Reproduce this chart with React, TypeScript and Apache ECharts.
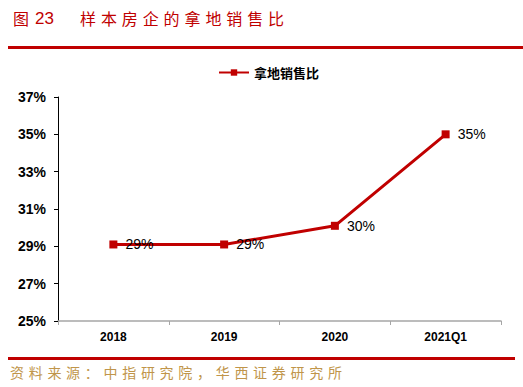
import React, { useEffect, useRef } from "react";
import * as echarts from "echarts";

const categories = ["2018", "2019", "2020", "2021Q1"];
const ratioValues = [29.1, 29.1, 30.1, 35.0];
const ratioLabels = ["29%", "29%", "30%", "35%"];
const yTicks = [25, 27, 29, 31, 33, 35, 37];
const seriesName = "拿地销售比";
const titleFig = "图";
const titleNum = "23";
const titleText = "样本房企的拿地销售比";
const sourceText = "资料来源：中指研究院，华西证券研究所";

const RED = "#c00000";

function charTexts(text: string, x0: number, y: number, pitch: number, style: any) {
  return Array.from(text).map((ch, i) => ({
    type: "text",
    x: x0 + i * pitch,
    y,
    style: { text: ch, ...style, verticalAlign: "middle" },
  }));
}

export default function App() {
  const ref = useRef<HTMLDivElement>(null);
  useEffect(() => {
    const chart = echarts.init(ref.current!, null, { renderer: "svg" });
    const titleStyle = { fill: RED, fontSize: 16, fontFamily: "Noto Sans CJK SC" };
    const srcStyle = { fill: "#c0954a", fontSize: 14, fontFamily: "Noto Sans CJK SC" };
    chart.setOption({
      animation: false,
      backgroundColor: "#ffffff",
      legend: {
        data: [seriesName],
        left: 213,
        top: 61,
        itemWidth: 30,
        itemHeight: 8,
        itemGap: 4,
        textStyle: { fontSize: 13, fontWeight: "bold", color: "#000", fontFamily: "Noto Sans CJK SC" },
      },
      grid: { left: 58, right: 22, top: 97, bottom: 66 },
      xAxis: {
        type: "category",
        data: categories,
        boundaryGap: true,
        axisLine: { lineStyle: { color: "#a6a6a6", width: 1.5 } },
        axisTick: { show: true, length: 4, lineStyle: { color: "#a6a6a6" } },
        axisLabel: { color: "#000", fontSize: 12, fontWeight: "bold", margin: 10, fontFamily: "Liberation Sans" },
      },
      yAxis: {
        type: "value",
        min: 25,
        max: 37,
        interval: 2,
        splitLine: { show: false },
        axisLine: { show: true, lineStyle: { color: "#000", width: 1 } },
        axisTick: { show: true, length: 4, lineStyle: { color: "#000" } },
        axisLabel: {
          color: "#000",
          fontSize: 14,
          fontWeight: "bold",
          margin: 12,
          fontFamily: "Liberation Sans",
          formatter: (v: number) => (yTicks.includes(v) ? v + "%" : ""),
        },
      },
      series: [
        {
          name: seriesName,
          type: "line",
          data: ratioValues,
          symbol: "rect",
          symbolSize: 8,
          lineStyle: { color: RED, width: 3 },
          itemStyle: { color: RED },
          label: {
            show: true,
            position: "right",
            distance: 8,
            color: "#000",
            fontSize: 14,
            fontFamily: "Liberation Sans",
            formatter: (p: any) => ratioLabels[p.dataIndex],
          },
        },
      ],
      graphic: [
        { type: "text", x: 13, y: 18, style: { text: titleFig, ...titleStyle, verticalAlign: "middle" } },
        { type: "text", x: 35, y: 18, style: { text: titleNum, ...titleStyle, fontFamily: "Liberation Sans", fontSize: 17, verticalAlign: "middle" } },
        ...charTexts(titleText, 80, 18, 20.9, titleStyle),
        { type: "rect", shape: { x: 8, y: 46, width: 515, height: 3 }, style: { fill: RED } },
        { type: "rect", shape: { x: 8, y: 357, width: 507, height: 3 }, style: { fill: RED } },
        ...charTexts(sourceText, 10, 372, 18.7, srcStyle),
      ],
    });
    return () => chart.dispose();
  }, []);
  return <div ref={ref} style={{ position: "absolute", left: 0, top: 0, width: 523, height: 387 }} />;
}
